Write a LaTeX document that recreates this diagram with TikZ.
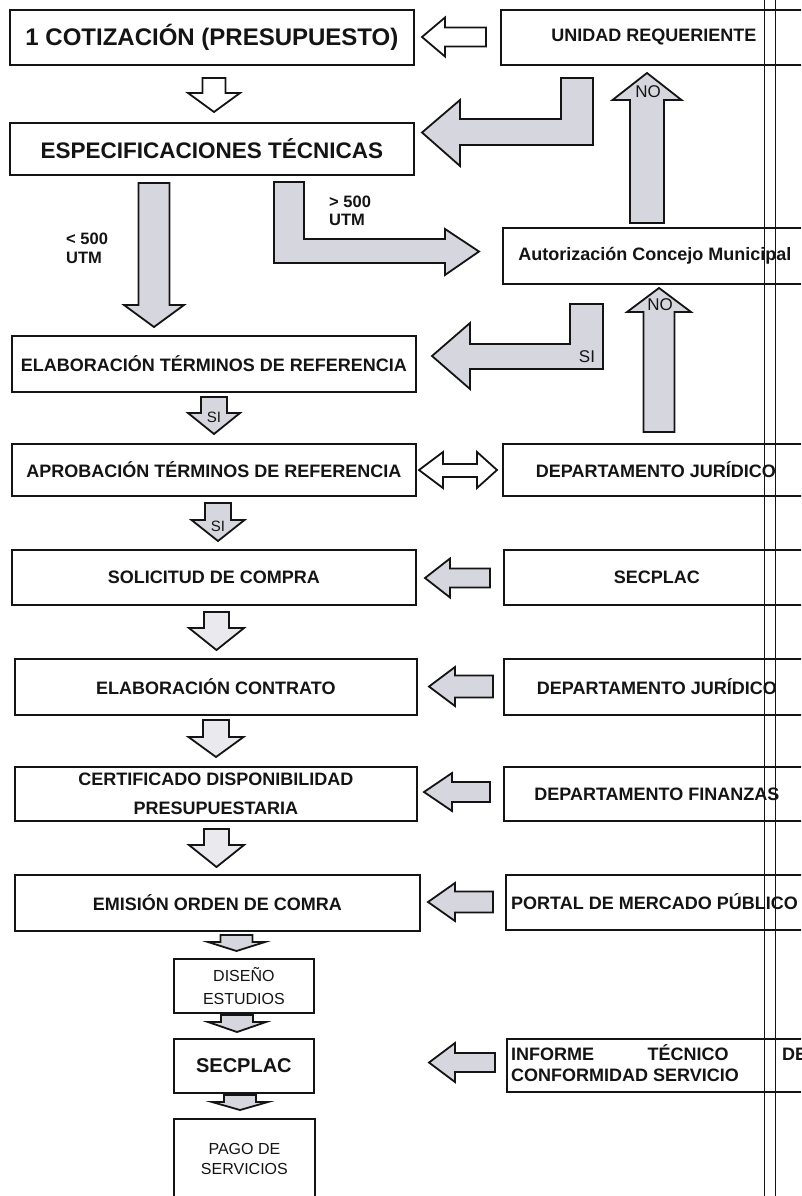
\documentclass[tikz,border=0pt]{standalone}
\usepackage{fontspec}
\setmainfont{Liberation Sans}
\definecolor{agray}{RGB}{214,214,222}
\definecolor{alight}{RGB}{234,234,238}
\definecolor{ink}{RGB}{20,20,20}
% vertical block arrow: [style]{cx}{shaft end y}{head base y}{tip y}{head half}{shaft half}
\newcommand\myVblock[7][garrow]{\draw[#1] ({#2-#7},{#3}) -- ({#2+#7},{#3}) -- ({#2+#7},{#4}) -- ({#2+#6},{#4}) -- ({#2},{#5}) -- ({#2-#6},{#4}) -- ({#2-#7},{#4}) -- cycle;}
% horizontal block arrow pointing left: [style]{tip x}{cy}{head base x}{shaft end x}{head half}{shaft half}
\newcommand\myLblock[7][garrow]{\draw[#1] ({#5},{#3-#7}) -- ({#4},{#3-#7}) -- ({#4},{#3-#6}) -- ({#2},{#3}) -- ({#4},{#3+#6}) -- ({#4},{#3+#7}) -- ({#5},{#3+#7}) -- cycle;}
\begin{document}
\begin{tikzpicture}[x=1pt,y=-1pt,
  box/.style={draw=ink, line width=1.8pt, inner sep=0pt, anchor=north west, text=ink, align=center, font=\bfseries\fontsize{18}{21}\selectfont},
  garrow/.style={draw=ink, line width=1.8pt, fill=agray, line join=miter},
  warrow/.style={garrow, fill=white},
  larrow/.style={garrow, fill=alight},
  lbl/.style={text=ink, inner sep=0pt, font=\fontsize{17}{17}\selectfont},
  blbl/.style={text=ink, inner sep=0pt, align=left, font=\bfseries\fontsize{16.5}{18.5}\selectfont},
  rtxt/.style={text=ink, inner sep=0pt, align=left, anchor=west, font=\bfseries\fontsize{18}{21}\selectfont},
]
\useasboundingbox (0,0) rectangle (801,1196);
\clip (0,0) rectangle (801,1196);
\fill[white] (0,0) rectangle (801,1196);

% left column boxes
\node[box, minimum width=404pt, minimum height=55pt, font=\bfseries\fontsize{24}{28}\selectfont] (cot) at (9,9) {1 COTIZACIÓN (PRESUPUESTO)};
\node[box, minimum width=404pt, minimum height=52pt, font=\bfseries\fontsize{22.5}{26}\selectfont] (esp) at (9,122) {ESPECIFICACIONES TÉCNICAS};
\node[box, minimum width=404pt, minimum height=56pt] (elab) at (11,335) {ELABORACIÓN TÉRMINOS DE REFERENCIA};
\node[box, minimum width=404pt, minimum height=52pt] (aprob) at (11,443) {APROBACIÓN TÉRMINOS DE REFERENCIA};
\node[box, minimum width=404pt, minimum height=55pt] (solic) at (11,549) {SOLICITUD DE COMPRA};
\node[box, minimum width=402pt, minimum height=56pt] (contr) at (14,658) {ELABORACIÓN CONTRATO};
\node[box, minimum width=402pt, minimum height=54pt, font=\bfseries\fontsize{18}{29}\selectfont] (cert) at (14,766) {CERTIFICADO DISPONIBILIDAD\\PRESUPUESTARIA};
\node[box, minimum width=405pt, minimum height=56pt] (emis) at (14,874) {EMISIÓN ORDEN DE COMRA};
\node[box, minimum width=140pt, minimum height=54pt, font=\fontsize{16}{23}\selectfont] (dise) at (173,958) {DISEÑO\\ESTUDIOS};
\node[box, minimum width=140pt, minimum height=54pt, font=\bfseries\fontsize{20}{24}\selectfont] (secp) at (173,1038) {SECPLAC};
\node[box, minimum width=141pt, minimum height=81pt, font=\fontsize{16}{20}\selectfont] (pago) at (173,1118) {PAGO DE\\SERVICIOS};

% right column boxes
\node[box, minimum width=306pt, minimum height=55pt] (unid) at (500,9) {UNIDAD REQUERIENTE};
\node[box, minimum width=304pt, minimum height=56pt] (autor) at (502,227) {Autorización Concejo Municipal};
\node[box, minimum width=306pt, minimum height=52pt] (jur1) at (502,443) {DEPARTAMENTO JURÍDICO};
\node[box, minimum width=306pt, minimum height=55pt] (secr) at (503,549) {SECPLAC};
\node[box, minimum width=306pt, minimum height=56pt] (jur2) at (503,658) {DEPARTAMENTO JURÍDICO};
\node[box, minimum width=306pt, minimum height=54pt] (fin) at (503,766) {DEPARTAMENTO FINANZAS};
\node[box, minimum width=306pt, minimum height=55pt] (portal) at (505,874) {};
\node[rtxt] (portalt) at (511,902) {PORTAL DE MERCADO PÚBLICO};
\node[box, minimum width=306pt, minimum height=53pt] (inf) at (506,1038) {};
\node[rtxt] (inft) at (511,1063) {\makebox[296pt][l]{INFORME\hfill TÉCNICO\hfill DE}\\CONFORMIDAD SERVICIO};

% block arrows
\myLblock[warrow]{422}{37}{445}{486}{19.5}{9.5}
\myVblock[warrow]{214}{78}{93}{112}{26}{11.5}
\draw[garrow] (561,78) -- (593,78) -- (593,145) -- (460,145) -- (460,166) -- (422,132.5) -- (460,100) -- (460,119) -- (561,119) -- cycle;
\myVblock{647}{223}{100}{73}{34.5}{17}
\myVblock{154}{183}{305}{327}{30}{15.5}
\draw[garrow] (274,182) -- (304,182) -- (304,239) -- (445,239) -- (445,229) -- (479,251.5) -- (445,275) -- (445,263) -- (274,263) -- cycle;
\draw[garrow] (570,304) -- (603,304) -- (603,369) -- (470,369) -- (470,389) -- (432,356) -- (470,323) -- (470,344) -- (570,344) -- cycle;
\myVblock{659}{432}{312}{288}{32}{15.5}
\myVblock{214}{397}{413}{434}{26}{13}
\draw[warrow] (419,470) -- (443,452) -- (443,464) -- (477,464) -- (477,452) -- (497,470) -- (477,488) -- (477,477) -- (443,477) -- (443,488) -- cycle;
\myVblock{218}{503}{520}{541}{26.5}{13}
\myLblock{425}{578}{450}{490}{19.5}{9.5}
\myVblock[larrow]{216.5}{612}{628}{650}{27.5}{12.5}
\myLblock{429}{686.5}{455}{493}{19.5}{11}
\myVblock[larrow]{216}{720}{737}{757}{27.5}{13}
\myLblock{424}{792}{452}{490}{19}{10}
\myVblock[larrow]{216.5}{829}{845}{867}{27.5}{12.5}
\myLblock{428}{902}{455}{493}{19}{10.5}
\myVblock{236.5}{935}{942}{951}{28.5}{16}
\myVblock{237}{1015}{1022}{1032}{29}{16}
\myVblock{240}{1095}{1102}{1110}{28}{16}
\myLblock{429}{1062.5}{455}{495}{19.5}{9.5}

% labels
\node[lbl] (no1) at (648,92) {NO};
\node[lbl] (no2) at (660,305) {NO};
\node[lbl] (si1) at (587,357) {SI};
\node[lbl, font=\fontsize{15}{15}\selectfont] (si2) at (214,417) {SI};
\node[lbl, font=\fontsize{15}{15}\selectfont] (si3) at (218,526) {SI};
\node[blbl, anchor=west] (gt) at (329,211) {> 500\\UTM};
\node[blbl, anchor=west] (lt) at (66,248.5) {< 500\\UTM};

% vertical rules
\draw[ink, line width=1pt] (764,0) -- (764,1196);
\draw[ink, line width=1pt] (775,0) -- (775,1196);
\end{tikzpicture}
\end{document}
